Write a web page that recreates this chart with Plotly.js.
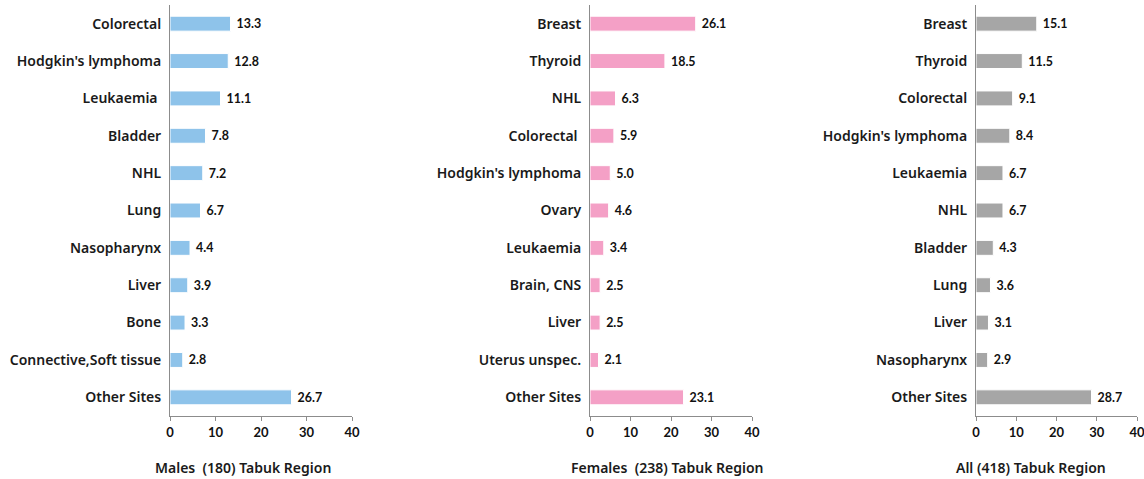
<!DOCTYPE html>
<html>
<head>
<meta charset="utf-8">
<script src="https://cdn.plot.ly/plotly-3.0.1.min.js"></script>
<style>html,body{margin:0;padding:0;background:#fff;}#chart{width:1144px;height:479px;}</style>
</head>
<body>
<div id="chart"></div>
<script>
const maleSites = ["Colorectal", "Hodgkin's lymphoma", "Leukaemia ", "Bladder", "NHL", "Lung", "Nasopharynx", "Liver", "Bone", "Connective,Soft tissue", "Other Sites"];
const maleValues = [13.3, 12.8, 11.1, 7.8, 7.2, 6.7, 4.4, 3.9, 3.3, 2.8, 26.7];

const femaleSites = ["Breast", "Thyroid", "NHL", "Colorectal ", "Hodgkin's lymphoma", "Ovary", "Leukaemia", "Brain, CNS", "Liver", "Uterus unspec.", "Other Sites"];
const femaleValues = [26.1, 18.5, 6.3, 5.9, 5.0, 4.6, 3.4, 2.5, 2.5, 2.1, 23.1];

const allSites = ["Breast", "Thyroid", "Colorectal", "Hodgkin's lymphoma", "Leukaemia", "NHL", "Bladder", "Lung", "Liver", "Nasopharynx", "Other Sites"];
const allValues = [15.1, 11.5, 9.1, 8.4, 6.7, 6.7, 4.3, 3.6, 3.1, 2.9, 28.7];

const panelTitles = ["Males  (180) Tabuk Region", "Females  (238) Tabuk Region", "All (418) Tabuk Region"];
const xTicks = [0, 10, 20, 30, 40];

const W = 1144, H = 479;
const colors = ["#8EC3EA", "#F4A0C6", "#A6A6A6"];
const panels = [
  {sites: maleSites, values: maleValues, x0: 170, x1: 352, titleX: 243},
  {sites: femaleSites, values: femaleValues, x0: 590, x1: 752, titleX: 667},
  {sites: allSites, values: allValues, x0: 976, x1: 1137, titleX: 1031}
];
const yTop = 5, yBot = 416;

const labelFont = {family: "Noto Sans, Open Sans, sans-serif", size: 14, color: "#1a1a1a", weight: 600};
const valueFont = {family: "Lato, Open Sans, sans-serif", size: 12.5, color: "#111", weight: 700};
const tickFont = {family: "Lato, Open Sans, sans-serif", size: 13, color: "#111", weight: 700};

const data = [];
const layout = {
  width: W, height: H,
  margin: {l: 0, r: 0, t: 0, b: 0},
  paper_bgcolor: "#fff", plot_bgcolor: "#fff",
  showlegend: false,
  bargap: 0.6,
  annotations: []
};

panels.forEach((p, i) => {
  const n = i === 0 ? "" : String(i + 1);
  data.push({
    type: "bar", orientation: "h",
    x: p.values, y: p.sites,
    xaxis: "x" + n, yaxis: "y" + n,
    marker: {color: colors[i], line: {color: "#ffffff", width: 1}},
    text: p.values.map(v => "\u00a0" + v.toFixed(1)),
    textposition: "outside",
    textfont: valueFont,
    cliponaxis: false,
    hoverinfo: "skip"
  });
  layout["xaxis" + n] = {
    domain: [p.x0 / W, p.x1 / W],
    anchor: "y" + n,
    range: [0, 40],
    tickvals: xTicks,
    ticktext: xTicks.map(String),
    showgrid: false, zeroline: false,
    showline: true, linecolor: "#8c8c8c", linewidth: 1,
    ticks: "outside", ticklen: 4, tickcolor: "#8c8c8c",
    tickfont: tickFont,
    ticklabeloverflow: "allow",
    fixedrange: true
  };
  layout["yaxis" + n] = {
    domain: [(H - yBot) / H, (H - yTop) / H],
    anchor: "x" + n,
    type: "category",
    categoryorder: "array", categoryarray: p.sites,
    range: [p.sites.length - 0.5, -0.5],
    showgrid: false, zeroline: false,
    showline: true, linecolor: "#8c8c8c", linewidth: 1,
    ticks: "", ticklabelstandoff: 5,
    tickfont: labelFont,
    ticklabeloverflow: "allow",
    fixedrange: true
  };
  layout.annotations.push({
    xref: "paper", yref: "paper",
    x: p.titleX / W, y: (H - 467) / H,
    xanchor: "center", yanchor: "middle",
    text: panelTitles[i], showarrow: false,
    font: {family: "Noto Sans, Open Sans, sans-serif", size: 14, color: "#1a1a1a", weight: 600}
  });
});

Plotly.newPlot("chart", data, layout, {displayModeBar: false, staticPlot: true});
</script>
</body>
</html>
